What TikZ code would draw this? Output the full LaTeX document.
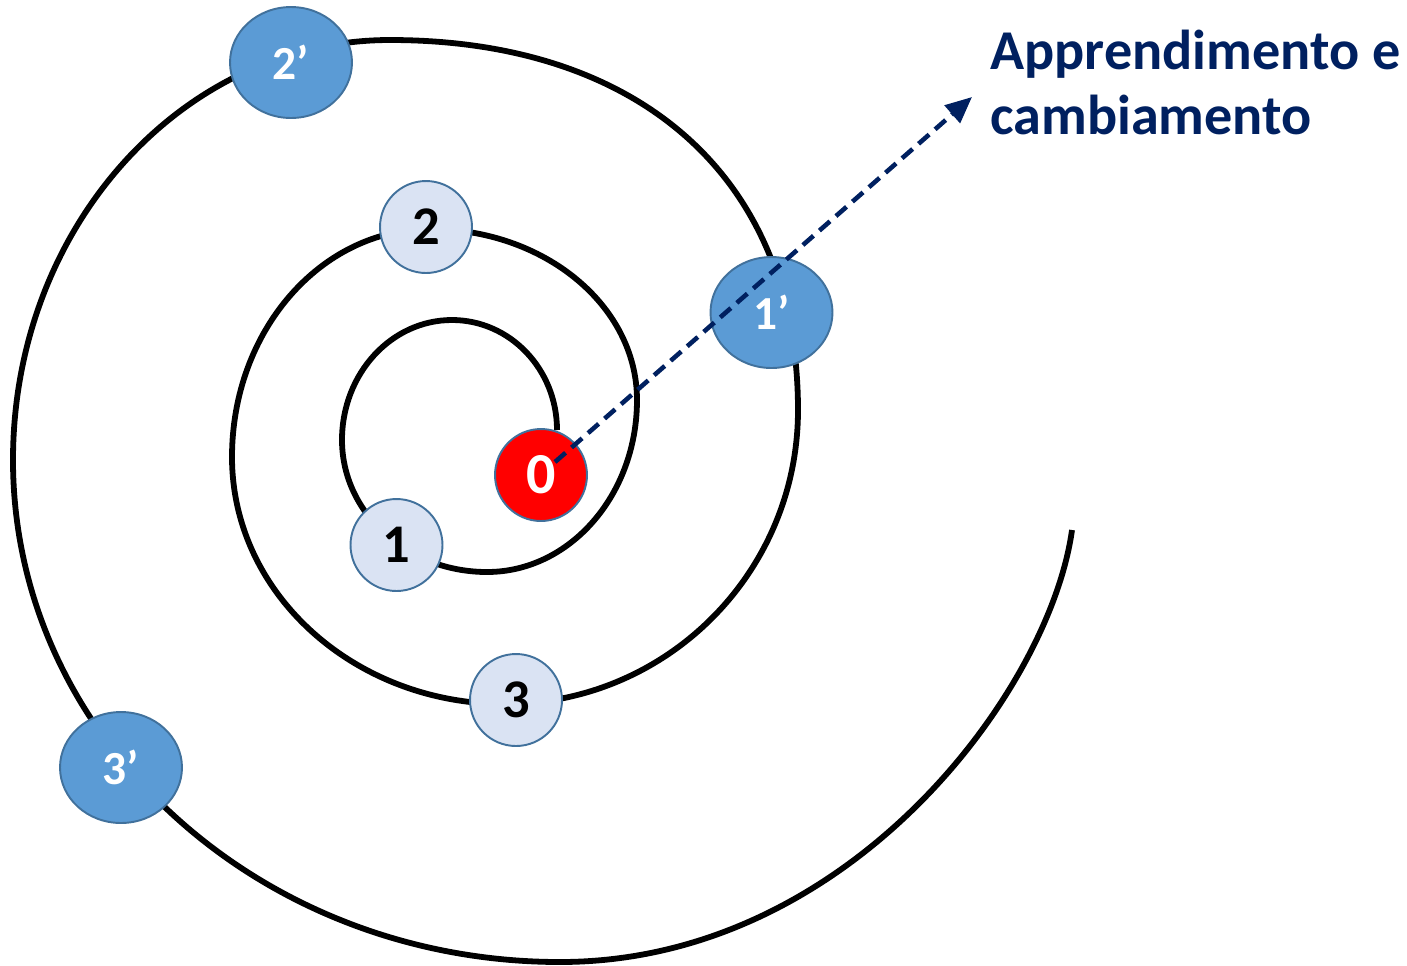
\documentclass[tikz,border=0pt]{standalone}
\usepackage{fontspec}
\setmainfont{Carlito}
\usetikzlibrary{shapes.geometric,arrows.meta}
\definecolor{navy}{HTML}{002060}
\definecolor{rimblue}{HTML}{41719C}
\definecolor{paleblue}{HTML}{DAE3F3}
\definecolor{midblue}{HTML}{5B9BD5}
\begin{document}
\begin{tikzpicture}[x=0.02cm,y=-0.02cm,
  spiral/.style={line width=3.3pt,black},
  stage/.style={circle,draw=rimblue,line width=1.1pt,fill=paleblue,
    minimum size=1.84cm,inner sep=0pt,font=\fontsize{31}{31}\selectfont\bfseries},
  origin/.style={stage,fill=red,text=white,font=\fontsize{33}{33}\selectfont\bfseries},
  outer/.style={ellipse,draw=rimblue,line width=1.1pt,fill=midblue,text=white,
    minimum width=2.44cm,minimum height=2.22cm,inner sep=0pt,
    font=\fontsize{27}{27}\selectfont\bfseries},
  growth/.style={navy,line width=2.6pt,dash pattern=on 8pt off 4.5pt,
    -{Triangle[length=15pt,width=13pt]}}]
\useasboundingbox (0,0) rectangle (1407,965);

% the spiral, built from quarter-ellipse arcs
\draw[spiral] (557,430)
  .. controls (557,369.2) and (510,320) .. (452,320)
  .. controls (391.2,320) and (342,373.7) .. (342,440)
  .. controls (342,512.9) and (406.9,572) .. (487,572)
  .. controls (569.8,572) and (637,495) .. (637,400)
  .. controls (637,305.6) and (544.3,229) .. (430,229)
  .. controls (320.6,229) and (232,331.1) .. (232,457)
  .. controls (232,593.4) and (354.2,704) .. (505,704)
  .. controls (666.8,704) and (798,572.4) .. (798,410)
  .. controls (798,181) and (643,40) .. (390,40)
  .. controls (181.8,40) and (13,228) .. (13,460)
  .. controls (13,737.3) and (257.9,962) .. (560,962)
  .. controls (850,962) and (1050,690) .. (1072,530);

% stages along the spiral
\node[origin] (n0) at (541,475) {0};
\node[stage] (n1) at (396.5,545) {1};
\node[stage] (n2) at (426,227) {2};
\node[stage] (n3) at (516,700) {3};
\node[outer] (m1) at (771.5,312.5) {1’};
\node[outer] (m2) at (291,62.5) {2’};
\node[outer] (m3) at (121,767.5) {3’};

% direction of growth
\node[anchor=north west,align=left,text=navy,inner sep=0pt,
  font=\fontsize{32}{37}\selectfont\bfseries] (lbl) at (990,30)
  {Apprendimento e\\cambiamento};
\coordinate (tail) at (555,462);
\coordinate (head) at (972,97);
\draw[growth] (tail) -- (head);
\end{tikzpicture}
\end{document}
